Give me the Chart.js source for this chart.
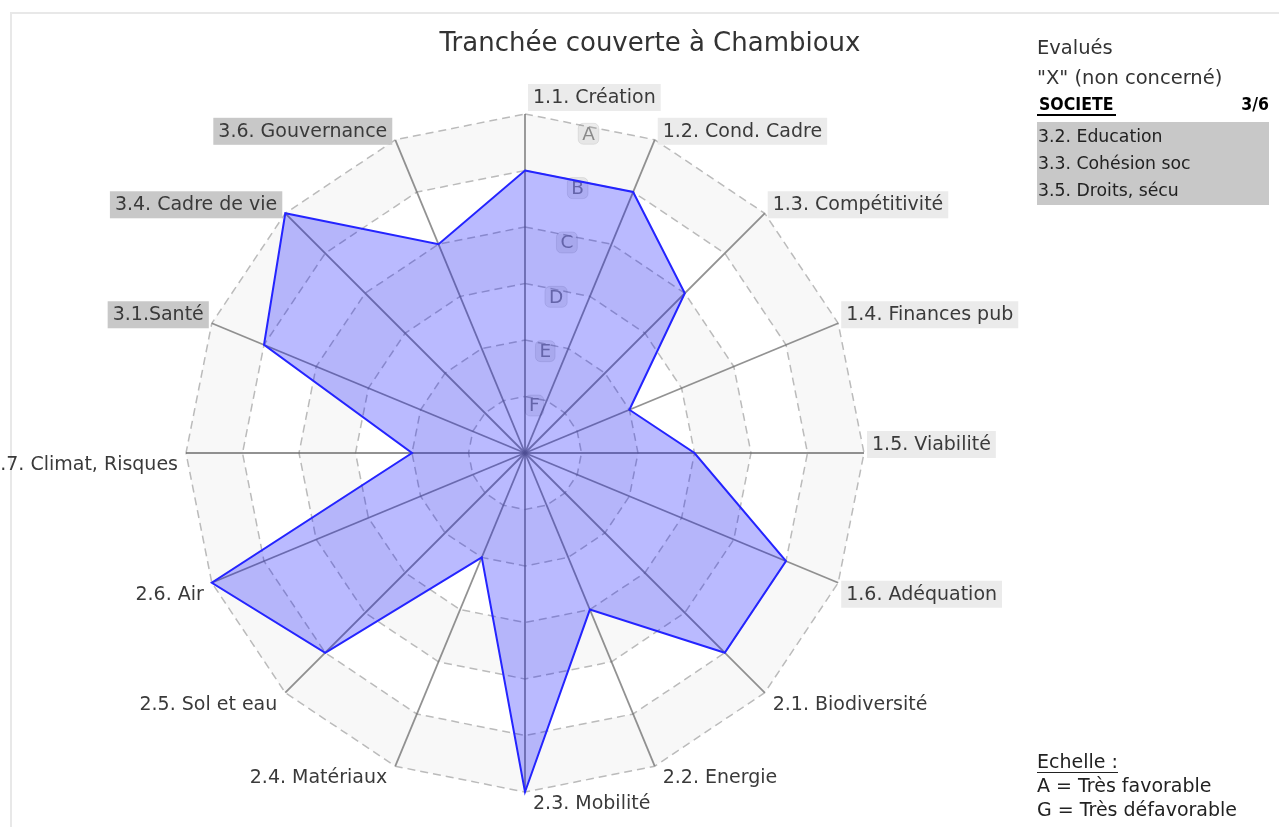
<!DOCTYPE html>
<html>
<head>
<meta charset="utf-8">
<script src="https://cdn.jsdelivr.net/npm/chart.js@4.4.1/dist/chart.umd.min.js"></script>
<style>
  body { margin: 0; background: #fff; font-family: "DejaVu Sans", sans-serif; color: #333; }
  #wrap { position: relative; width: 1279px; height: 827px; overflow: hidden; }
  #frame { position: absolute; left: 10px; top: 12px; width: 1300px; height: 900px; border: 2px solid #e8e8e8; }
  canvas { position: absolute; left: 0; top: 0; }
  #title { position: absolute; left: 300px; width: 700px; top: 27px; text-align: center; font-size: 26px; color: #333; }
  #side { position: absolute; left: 1037px; top: 34px; width: 232px; font-size: 19.5px; color: #333; }
  #side .line { height: 30px; line-height: 28px; }
  #head { display: flex; justify-content: space-between; font-family: "DejaVu Sans Condensed", "DejaVu Sans", sans-serif; font-weight: bold; font-stretch: condensed; font-size: 17.5px; color: #000; height: 22px; line-height: 20px; }
  #head span:first-child { border-bottom: 2px solid #000; padding: 0 3px 0 2px; }
  #missing { background: #c8c8c8; margin-top: 6px; padding: 1px 2px 1px 1px; font-size: 17.3px; color: #222; }
  #missing div { height: 27px; line-height: 27px; }
  #scale { position: absolute; left: 1037px; top: 749px; font-size: 19px; color: #222; line-height: 24px; }
  #scale .u { border-bottom: 1.5px solid #222; display: inline-block; line-height: 22px; }
</style>
</head>
<body>
<div id="wrap">
  <div id="frame"></div>
  <canvas id="radar" width="1279" height="827"></canvas>
  <div id="title">Tranchée couverte à Chambioux</div>
  <div id="side">
    <div class="line">Evalués</div>
    <div class="line">"X" (non concerné)</div>
    <div id="head"><span>SOCIETE</span><span>3/6</span></div>
    <div id="missing"></div>
  </div>
  <div id="scale">
    <div><span class="u">Echelle :</span></div>
    <div>A = Très favorable</div>
    <div>G = Très défavorable</div>
  </div>
</div>
<script>
// axes of the evaluation, clockwise from the top
const categories = [
  "1.1. Création", "1.2. Cond. Cadre", "1.3. Compétitivité", "1.4. Finances pub",
  "1.5. Viabilité", "1.6. Adéquation", "2.1. Biodiversité", "2.2. Energie",
  "2.3. Mobilité", "2.4. Matériaux", "2.5. Sol et eau", "2.6. Air",
  "2.7. Climat, Risques", "3.1.Santé", "3.4. Cadre de vie", "3.6. Gouvernance"
];
const groups = ["eco", "eco", "eco", "eco", "eco", "eco", "env", "env",
  "env", "env", "env", "env", "env", "soc", "soc", "soc"];
// 0 = G ... 6 = A
const scores = [5, 5, 4, 2, 3, 5, 5, 3, 6, 2, 5, 6, 2, 5, 6, 4];
const tickLabels = ["G", "F", "E", "D", "C", "B", "A"];
const notEvaluated = ["3.2. Education", "3.3. Cohésion soc", "3.5. Droits, sécu"];

document.getElementById("missing").innerHTML =
  notEvaluated.map((t) => "<div>" + t + "</div>").join("");

const groupBackdrop = { eco: "#ebebeb", env: null, soc: "#c8c8c8" };

function polygon(ctx, s, r) {
  ctx.beginPath();
  for (let i = 0; i < categories.length; i++) {
    const p = s.getPointPosition(i, r);
    if (i === 0) ctx.moveTo(p.x, p.y); else ctx.lineTo(p.x, p.y);
  }
  ctx.closePath();
}

// alternating grey bands between the rings
const bands = {
  id: "bands",
  beforeDraw(chart) {
    const s = chart.scales.r, ctx = chart.ctx;
    ctx.save();
    for (let v = s.max; v > s.min; v--) {
      polygon(ctx, s, s.getDistanceFromCenterForValue(v));
      ctx.fillStyle = v % 2 === 0 ? "#f8f8f8" : "#ffffff";
      ctx.fill();
    }
    ctx.restore();
  }
};

// letters A..F, upright, between the first two axes, under the fill
const letters = {
  id: "letters",
  beforeDatasetsDraw(chart) {
    const s = chart.scales.r, ctx = chart.ctx, n = categories.length;
    const a = -Math.PI / 2 + Math.PI / n;
    ctx.save();
    ctx.font = '18.5px "DejaVu Sans"';
    ctx.textAlign = "center";
    ctx.textBaseline = "middle";
    for (let v = s.min + 1; v <= s.max; v++) {
      const r = s.getDistanceFromCenterForValue(v) * Math.cos(Math.PI / n) - 7;
      const x = s.xCenter + Math.cos(a) * r;
      const y = s.yCenter + Math.sin(a) * r;
      const label = tickLabels[v];
      const w = ctx.measureText(label).width;
      ctx.beginPath();
      ctx.roundRect(x - w / 2 - 4, y - 10.5, w + 8, 21, 5);
      ctx.fillStyle = "rgba(0,0,0,0.07)";
      ctx.fill();
      ctx.strokeStyle = "rgba(0,0,0,0.08)";
      ctx.lineWidth = 1;
      ctx.stroke();
      ctx.fillStyle = "#8a8a8a";
      ctx.fillText(label, x, y + 1);
    }
    ctx.restore();
  }
};

// axis names anchored at the axis ends
const names = {
  id: "names",
  afterDraw(chart) {
    const s = chart.scales.r, ctx = chart.ctx, n = categories.length;
    const r = s.getDistanceFromCenterForValue(s.max);
    ctx.save();
    ctx.font = '19px "DejaVu Sans"';
    ctx.textBaseline = "middle";
    categories.forEach((label, i) => {
      const deg = (i * 360) / n;
      const p = s.getPointPosition(i, r);
      const right = deg > 180;
      const lower = deg > 90 && deg <= 270;
      let cy = lower ? p.y + 11 : p.y - 9;
      if (deg === 0) cy = p.y - 17;
      const w = ctx.measureText(label).width;
      const tx = right ? p.x - 8 - w : p.x + 8;
      const bg = groupBackdrop[groups[i]];
      if (bg) {
        ctx.fillStyle = bg;
        ctx.fillRect(tx - 5, cy - 13, w + 10, 27);
      }
      ctx.fillStyle = "#3a3a3a";
      ctx.textAlign = "left";
      ctx.fillText(label, tx, cy + 1);
    });
    ctx.restore();
  }
};

new Chart(document.getElementById("radar"), {
  type: "radar",
  data: {
    labels: categories,
    datasets: [{
      data: scores,
      backgroundColor: "rgba(0,0,255,0.27)",
      borderColor: "#2424ff",
      borderWidth: 2,
      pointRadius: 0,
      pointHoverRadius: 0,
      tension: 0
    }]
  },
  options: {
    responsive: false,
    animation: false,
    events: [],
    layout: { padding: { left: 186, right: 415, top: 114, bottom: 35 } },
    plugins: { legend: { display: false }, tooltip: { enabled: false }, title: { display: false } },
    scales: {
      r: {
        min: 0,
        max: 6,
        ticks: { display: false, stepSize: 1 },
        pointLabels: { display: false },
        grid: { color: "#bbbbbb", lineWidth: 1.5 },
        border: { dash: [8, 5] },
        angleLines: { color: "rgba(110,110,110,0.75)", lineWidth: 1.8 }
      }
    }
  },
  plugins: [bands, letters, names]
});
</script>
</body>
</html>
